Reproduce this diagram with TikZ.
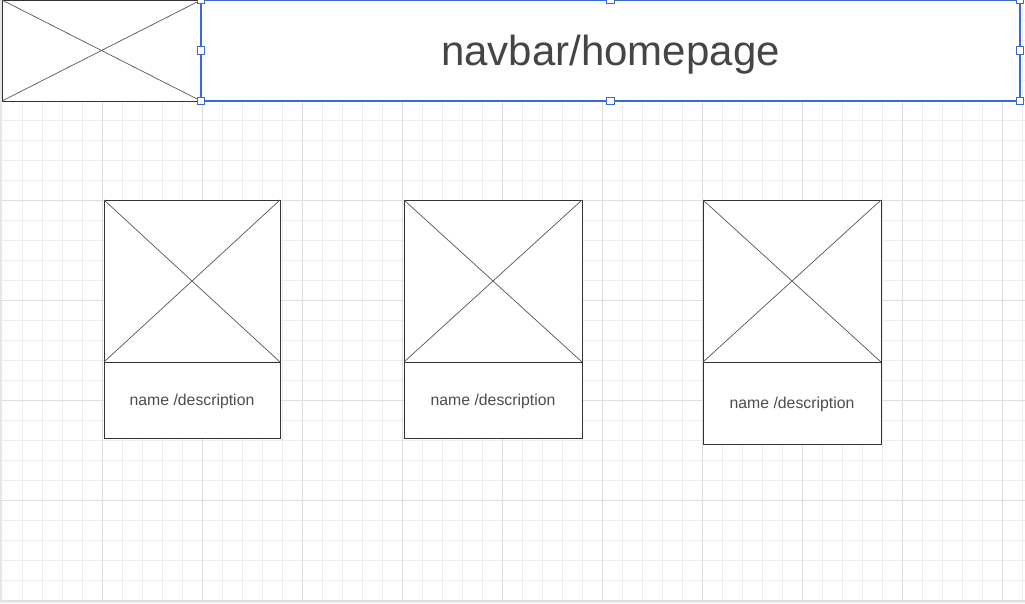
\documentclass[tikz,border=0pt]{standalone}
\usepackage{fontspec}
\setmainfont{Liberation Sans}
\definecolor{canvasbg}{HTML}{E6E6E6}
\definecolor{gridminor}{HTML}{EDEDED}
\definecolor{gridmajor}{HTML}{DEDEDE}
\definecolor{frame}{HTML}{333333}
\definecolor{cross}{HTML}{555555}
\definecolor{label}{HTML}{4D4D4D}
\definecolor{select}{HTML}{3A6BD4}
\begin{document}
\begin{tikzpicture}[x=1pt,y=-1pt,
  wire/.style={draw=frame,line width=0.9pt,fill=white,inner sep=0pt,outer sep=0pt},
  crossline/.style={draw=cross,line width=0.7pt},
  handle/.style={draw=select,fill=white,line width=1pt,minimum size=7.5pt,inner sep=0pt,outer sep=0pt},
  desctext/.style={font=\fontsize{15.8}{18}\selectfont,text=label}]
% page and canvas
\useasboundingbox (0,0) rectangle (1025,603);
\fill[canvasbg] (0,0) rectangle (1025,603);
\fill[white] (2,0) rectangle (1025,600);
% grid
\foreach \x in {22,42,...,1022} \draw[gridminor,line width=0.8pt] (\x,0) -- (\x,600);
\foreach \y in {20,40,...,580} \draw[gridminor,line width=0.8pt] (2,\y) -- (1025,\y);
\foreach \x in {102,202,...,1002} \draw[gridmajor,line width=0.8pt] (\x,0) -- (\x,600);
\foreach \y in {100,200,...,600} \draw[gridmajor,line width=0.8pt] (2,\y) -- (1025,\y);
% header: logo placeholder and navigation bar
\node[wire,minimum width=199pt,minimum height=101pt] (logo) at (101.5,50.5) {};
\draw[crossline] (logo.north west) -- (logo.south east);
\draw[crossline] (logo.south west) -- (logo.north east);
\node[wire,minimum width=819pt,minimum height=101pt] (nav) at (610.5,50.5) {};
\draw[select,line width=1.3pt] (nav.north west) rectangle (nav.south east);
\node[font=\fontsize{42}{48}\selectfont,text=label!90!black] (navtext) at (610.5,54.5) {navbar/homepage};
\foreach \a in {north west,west,south west,north,south,north east,east,south east}
  \node[handle] at (nav.\a) {};
% product cards
\foreach \i/\cx/\w/\dh in {1/192/176/76, 2/493/178/76, 3/792/178/82} {
  \node[wire,minimum width=\w pt,minimum height=162pt] (img\i) at (\cx,281) {};
  \draw[crossline] (img\i.north west) -- (img\i.south east);
  \draw[crossline] (img\i.south west) -- (img\i.north east);
  \node[wire,anchor=north,minimum width=\w pt,minimum height=\dh pt] (desc\i) at (img\i.south) {};
  \node[desctext,yshift=-1.8pt] (txt\i) at (desc\i.center) {name /description};
}
\end{tikzpicture}
\end{document}
